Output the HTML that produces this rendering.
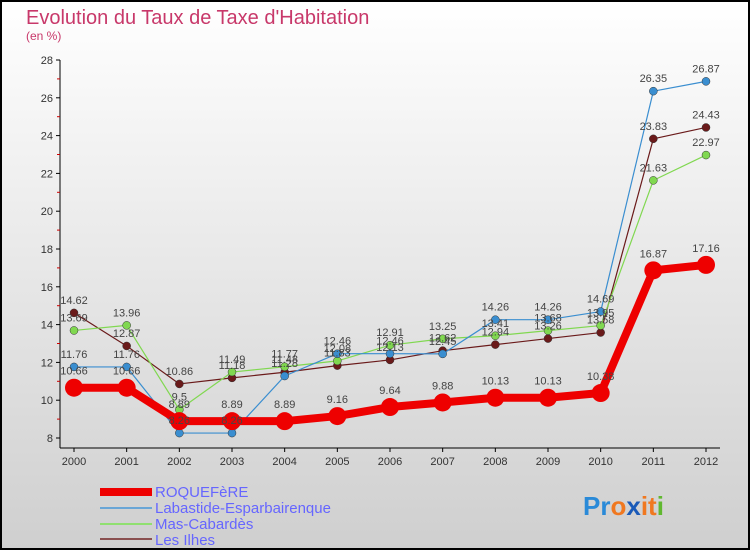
<!DOCTYPE html>
<html><head><meta charset="utf-8"><style>
html,body{margin:0;padding:0}
body{width:750px;height:550px;overflow:hidden;font-family:"Liberation Sans",sans-serif}
</style></head><body>
<svg id="chart" width="750" height="550" xmlns="http://www.w3.org/2000/svg" style="display:block">
<defs><linearGradient id="bg" x1="0" y1="0" x2="0" y2="1"><stop offset="0" stop-color="#ffffff"/><stop offset="1" stop-color="#cfcfcf"/></linearGradient></defs>
<rect x="1" y="1" width="748" height="548" fill="url(#bg)" stroke="#000" stroke-width="2"/>
<text x="26" y="24" font-size="20" fill="#c8386a">Evolution du Taux de Taxe d'Habitation</text>
<text x="26" y="40" font-size="12" fill="#c8386a">(en %)</text>
<g id="axes"></g><g id="series"></g><g id="labels"></g>
<g>
<rect x="100" y="488" width="52" height="8" fill="#ee0000"/>
<text x="155" y="497" font-size="15" fill="#6666ff">ROQUEFèRE</text>
<rect x="100" y="507" width="52" height="2" fill="#6aa6d6"/>
<text x="155" y="513" font-size="15" fill="#6666ff">Labastide-Esparbairenque</text>
<rect x="100" y="523" width="52" height="2" fill="#90e070"/>
<text x="155" y="529" font-size="15" fill="#6666ff">Mas-Cabardès</text>
<rect x="100" y="538" width="52" height="2" fill="#8a5050"/>
<text x="155" y="545" font-size="15" fill="#6666ff">Les Ilhes</text>
</g>
<text x="583" y="515" font-size="26" font-weight="bold"><tspan fill="#2a8ad8">Pr</tspan><tspan fill="#f07820">o</tspan><tspan fill="#1a5ab8">x</tspan><tspan fill="#f07820">it</tspan><tspan fill="#60b830">i</tspan></text>
</svg>
<script>
const years=[2000,2001,2002,2003,2004,2005,2006,2007,2008,2009,2010,2011,2012];
const yTicks=[8,10,12,14,16,18,20,22,24,26,28];
const roquefere=[10.66,10.66,8.89,8.89,8.89,9.16,9.64,9.88,10.13,10.13,10.38,16.87,17.16];
const labastide=[11.76,11.76,8.26,8.26,11.28,12.46,12.46,12.45,14.26,14.26,14.69,26.35,26.87];
const mas=[13.69,13.96,9.5,11.49,11.77,12.08,12.91,13.25,13.41,13.68,13.95,21.63,22.97];
const ilhes=[14.62,12.87,10.86,11.18,11.48,11.83,12.13,12.62,12.94,13.26,13.58,23.83,24.43];
const NS="http://www.w3.org/2000/svg";
const x=i=>74+i*(706-74)/(years.length-1);
const y=v=>438-(v-8)*(438-60)/20;
function mk(t,a,p){const e=document.createElementNS(NS,t);for(const k in a)e.setAttribute(k,a[k]);p.appendChild(e);return e;}
const ax=document.getElementById('axes');
mk('line',{x1:60,y1:60,x2:60,y2:448,stroke:'#000'},ax);
mk('line',{x1:60,y1:448,x2:720,y2:448,stroke:'#000'},ax);
yTicks.forEach(t=>{mk('line',{x1:56,y1:y(t),x2:60,y2:y(t),stroke:'#000'},ax);
 if(t<28)mk('line',{x1:57,y1:y(t+1),x2:60,y2:y(t+1),stroke:'#c00'},ax);
 const tx=mk('text',{x:53,y:y(t)+4,'font-size':11,fill:'#333','text-anchor':'end'},ax);tx.textContent=t;
 });
years.forEach((yr,i)=>{mk('line',{x1:x(i),y1:448,x2:x(i),y2:452,stroke:'#000'},ax);
 const tx=mk('text',{x:x(i),y:465,'font-size':11,fill:'#333','text-anchor':'middle'},ax);tx.textContent=yr;
 });
const sg=document.getElementById('series'),lg=document.getElementById('labels');
function draw(data,color,w,r,name){
 const pl=mk('polyline',{points:data.map((v,i)=>x(i)+','+y(v)).join(' '),fill:'none',stroke:color,'stroke-width':w,'stroke-linejoin':'round'},sg);
 
 data.forEach((v,i)=>{const c=mk('circle',{cx:x(i),cy:y(v),r:r,fill:color,stroke:r>5?'none':'#333','stroke-width':0.5},sg);
  
  const t=mk('text',{x:x(i),y:y(v)-(r>5?13:9),'font-size':11,fill:'#444','text-anchor':'middle'},lg);t.textContent=v;
  });
}
draw(ilhes,'#6a1a1a',1.2,4,'les-ilhes');
draw(mas,'#80d850',1.2,4,'mas-cabardes');
draw(labastide,'#3a8ed0',1.2,4,'labastide');
draw(roquefere,'#ee0000',8,9,'roquefere');
</script>
</body></html>
